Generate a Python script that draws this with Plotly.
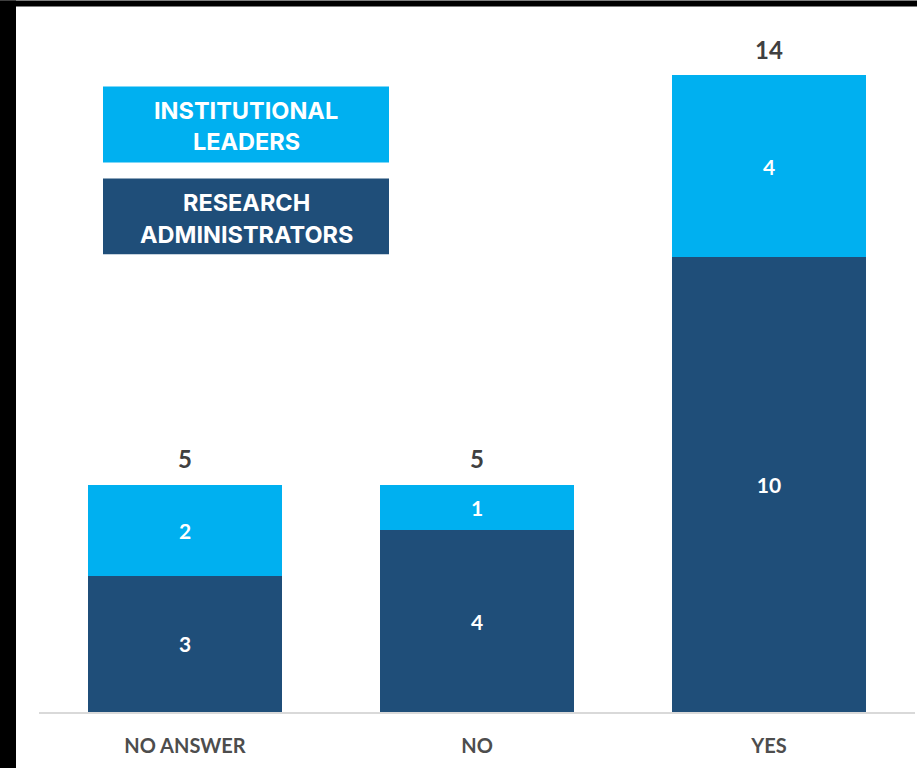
import plotly.graph_objects as go

# Survey responses by group
categories = ["NO ANSWER", "NO", "YES"]
research_admins = [3, 4, 10]
institutional_leaders = [2, 1, 4]
totals = [a + b for a, b in zip(research_admins, institutional_leaders)]

DARK = "#1F4E79"
LIGHT = "#00B0F0"

W, H = 917, 768
ML, MR, MT, MB = 39, 2, 29.5, 56
PW, PH = W - ML - MR, H - MT - MB


def px_x(x):
    return (x - ML) / PW


def px_y(y):
    return (H - MB - y) / PH


fig = go.Figure()
fig.add_trace(go.Bar(
    x=categories, y=research_admins, name="RESEARCH ADMINISTRATORS",
    marker=dict(color=DARK, line=dict(width=0)),
    text=research_admins, textposition="inside", insidetextanchor="middle",
    textfont=dict(color="white", size=21, family="Lato, Open Sans, sans-serif", weight="bold"),
))
fig.add_trace(go.Bar(
    x=categories, y=institutional_leaders, name="INSTITUTIONAL LEADERS",
    marker=dict(color=LIGHT, line=dict(width=0)),
    text=institutional_leaders, textposition="inside", insidetextanchor="middle",
    textfont=dict(color="white", size=21, family="Lato, Open Sans, sans-serif", weight="bold"),
))

# Totals above each stack
for c, t in zip(categories, totals):
    fig.add_annotation(
        x=c, y=t, xref="x", yref="y", text=f"<b>{t}</b>", showarrow=False,
        yanchor="middle", yshift=26,
        font=dict(size=24, color="#404040", family="Lato, Open Sans, sans-serif"),
    )

# Legend boxes, one annotation per text line
legend_items = [
    (["INSTITUTIONAL", "LEADERS"], LIGHT, 86, 162, [110, 141]),
    (["RESEARCH", "ADMINISTRATORS"], DARK, 178, 254, [202, 234]),
]
for lines, color, y0, y1, line_ys in legend_items:
    fig.add_shape(type="rect", xref="paper", yref="paper",
                  x0=px_x(103), x1=px_x(389), y0=px_y(y1), y1=px_y(y0),
                  fillcolor=color, line=dict(width=0), layer="above")
    for line, ly in zip(lines, line_ys):
        fig.add_annotation(
            xref="paper", yref="paper", x=px_x(246), y=px_y(ly),
            xanchor="center", yanchor="middle", showarrow=False, text=f"<b>{line}</b>",
            font=dict(size=23.5, color="white", family="Inter, Roboto, sans-serif"),
        )

# Black frame strips along the top and left edges
fig.add_shape(type="rect", xref="paper", yref="paper",
              x0=px_x(0), x1=px_x(16), y0=px_y(H), y1=px_y(0),
              fillcolor="black", line=dict(width=0), layer="above")
fig.add_shape(type="rect", xref="paper", yref="paper",
              x0=px_x(0), x1=px_x(W), y0=px_y(6), y1=px_y(0),
              fillcolor="black", line=dict(width=0), layer="above")

fig.update_layout(
    width=W, height=H, barmode="stack", bargap=0.335,
    margin=dict(l=ML, r=MR, t=MT, b=MB),
    paper_bgcolor="white", plot_bgcolor="white", showlegend=False,
    xaxis=dict(showline=True, linecolor="#D9D9D9", linewidth=2, ticks="",
               ticklabelstandoff=15, showgrid=False,
               tickfont=dict(size=20, color="#4D4D4D", weight="bold",
                             family="Lato, sans-serif")),
    yaxis=dict(range=[0, 15], visible=False, showgrid=False),
)

fig.write_html("out.html")
